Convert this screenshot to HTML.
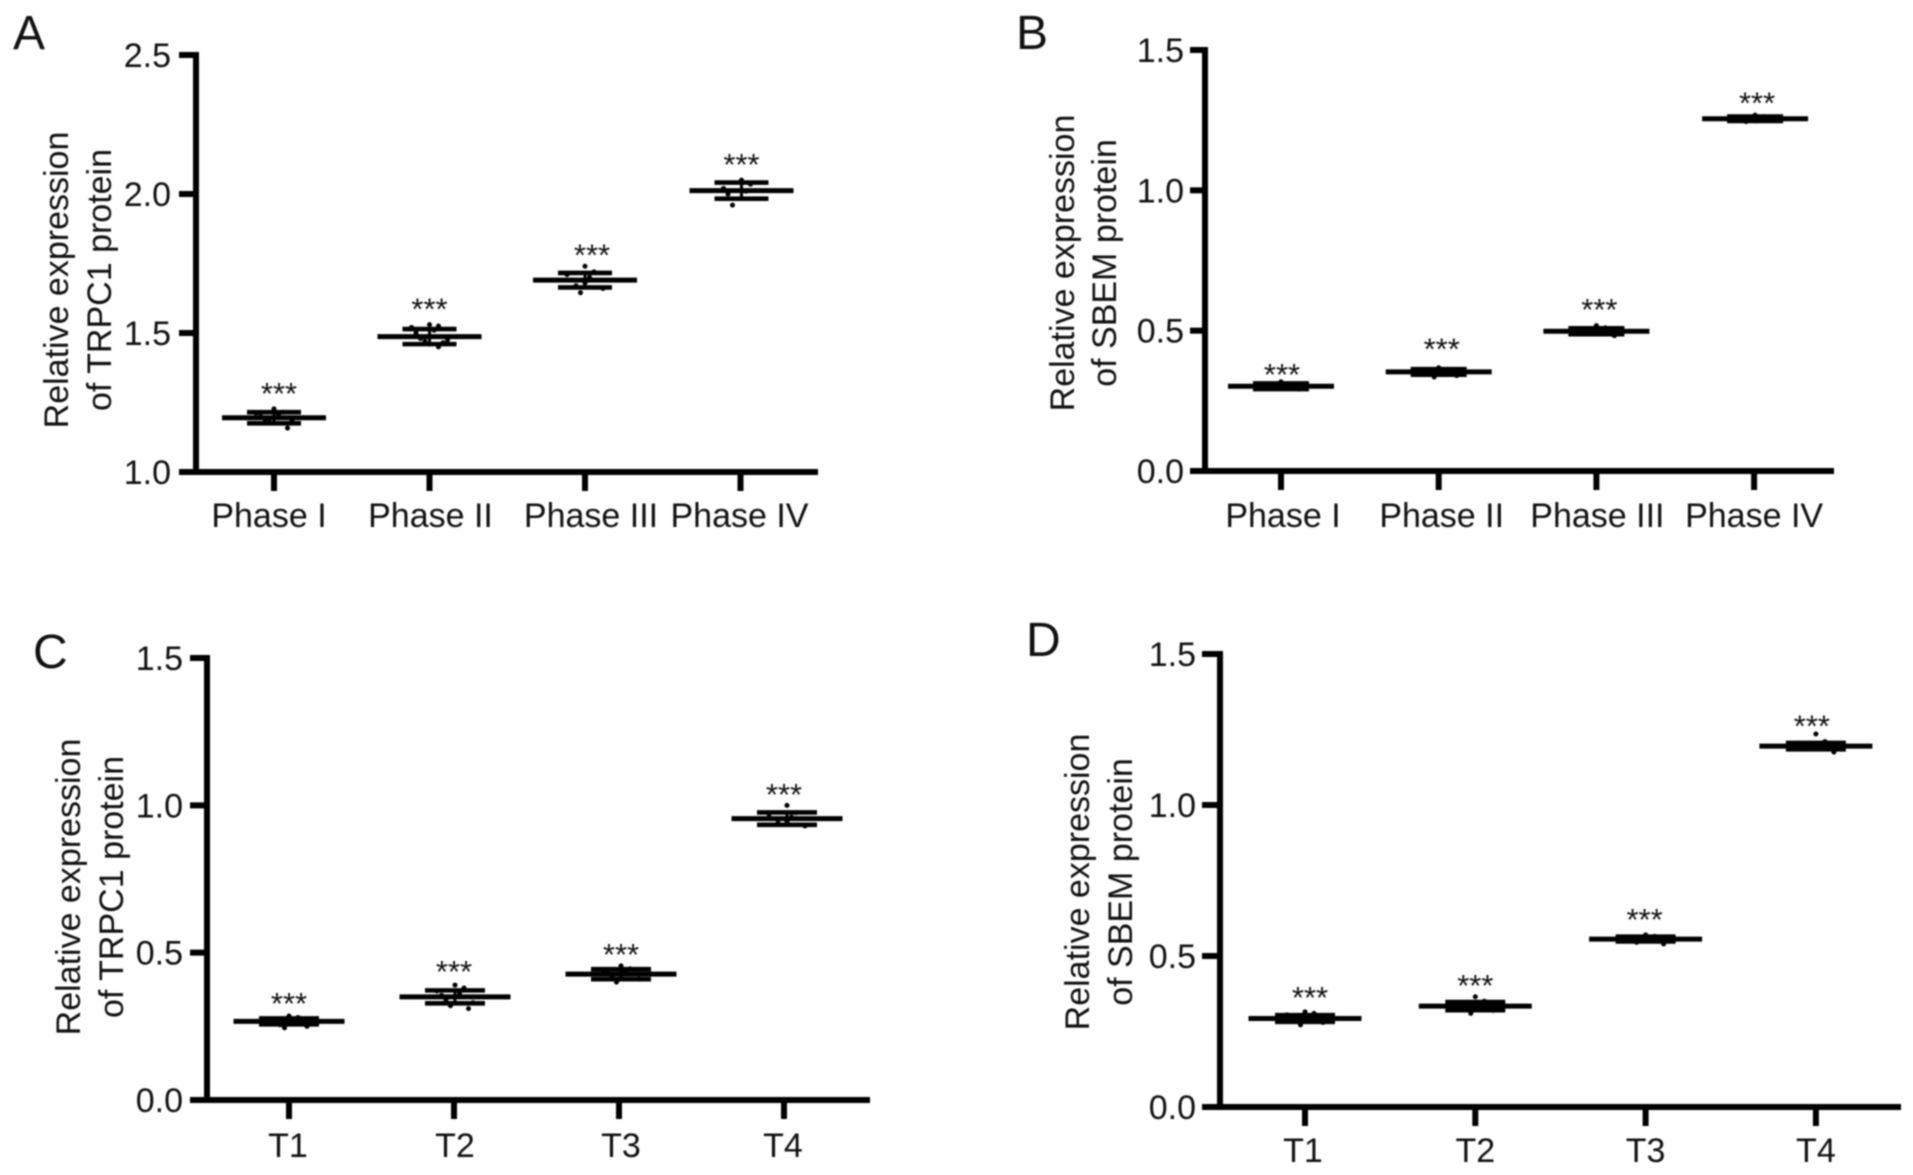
<!DOCTYPE html>
<html lang="en">
<head>
<meta charset="utf-8">
<title>Relative expression of TRPC1 and SBEM protein</title>
<style>
html,body{margin:0;padding:0;background:#fff;width:1913px;height:1175px;overflow:hidden}
svg{display:block;filter:blur(0.7px)}
text{font-family:"Liberation Sans",Arial,sans-serif;fill:#111}
</style>
</head>
<body>
<svg id="figure" xmlns="http://www.w3.org/2000/svg" width="1913" height="1175" viewBox="0 0 1913 1175"></svg>
<script>
// ---------- Panel A data ----------
const aCategories = ["Phase I", "Phase II", "Phase III", "Phase IV"];
const aTicks = ["1.0", "1.5", "2.0", "2.5"];
const aMeans = [1.195, 1.487, 1.69, 2.012];
const aSds = [0.02, 0.027, 0.026, 0.029];
const aStars = [1.291, 1.596, 1.79, 2.116];
const aPoints = [
  [1.227, 1.215, 1.212, 1.205, 1.2, 1.195, 1.19, 1.185, 1.18, 1.158],
  [1.53, 1.525, 1.52, 1.51, 1.5, 1.49, 1.48, 1.475, 1.47, 1.465, 1.46, 1.45],
  [1.74, 1.72, 1.71, 1.7, 1.69, 1.68, 1.67, 1.66, 1.645],
  [2.05, 2.035, 2.02, 2.01, 2.0, 1.985, 1.96]
];
// ---------- Panel B data ----------
const bCategories = ["Phase I", "Phase II", "Phase III", "Phase IV"];
const bTicks = ["0.0", "0.5", "1.0", "1.5"];
const bMeans = [0.302, 0.353, 0.498, 1.255];
const bSds = [0.01, 0.01, 0.0105, 0.008];
const bStars = [0.353, 0.444, 0.584, 1.32];
const bPoints = [
  [0.318, 0.308, 0.305, 0.302, 0.3, 0.298, 0.295, 0.292],
  [0.368, 0.362, 0.358, 0.355, 0.352, 0.348, 0.345, 0.34, 0.335],
  [0.518, 0.51, 0.505, 0.5, 0.497, 0.493, 0.49, 0.482],
  [1.268, 1.262, 1.258, 1.255, 1.252, 1.248, 1.245]
];
// ---------- Panel C data ----------
const cCategories = ["T1", "T2", "T3", "T4"];
const cTicks = ["0.0", "0.5", "1.0", "1.5"];
const cMeans = [0.267, 0.35, 0.427, 0.955];
const cSds = [0.01, 0.022, 0.017, 0.021];
const cStars = [0.336, 0.444, 0.502, 1.046];
const cPoints = [
  [0.285, 0.28, 0.275, 0.27, 0.265, 0.26, 0.255, 0.25, 0.245],
  [0.39, 0.38, 0.37, 0.36, 0.355, 0.35, 0.34, 0.33, 0.32, 0.31],
  [0.455, 0.445, 0.44, 0.435, 0.43, 0.425, 0.42, 0.41, 0.4],
  [1.0, 0.975, 0.97, 0.96, 0.955, 0.945, 0.94, 0.93]
];
// ---------- Panel D data ----------
const dCategories = ["T1", "T2", "T3", "T4"];
const dTicks = ["0.0", "0.5", "1.0", "1.5"];
const dMeans = [0.293, 0.334, 0.556, 1.195];
const dSds = [0.011, 0.0135, 0.008, 0.0105];
const dStars = [0.371, 0.411, 0.629, 1.27];
const dPoints = [
  [0.315, 0.31, 0.305, 0.3, 0.295, 0.29, 0.285, 0.28, 0.272],
  [0.365, 0.35, 0.345, 0.34, 0.335, 0.33, 0.325, 0.32, 0.31],
  [0.57, 0.565, 0.56, 0.557, 0.553, 0.55, 0.545, 0.54],
  [1.235, 1.21, 1.205, 1.2, 1.195, 1.19, 1.185, 1.175]
];

const NS = "http://www.w3.org/2000/svg";
const svg = document.getElementById("figure");

function make(parent, tag, attrs, txt) {
  const el = document.createElementNS(NS, tag);
  for (const k in attrs) el.setAttribute(k, attrs[k]);
  if (txt !== undefined) el.textContent = txt;
  parent.appendChild(el);
  return el;
}
function slug(s) { return s.toLowerCase().replace(/[^a-z0-9]+/g, "-"); }

function drawPanel(p) {
  const g = make(svg, "g", {});
  
  

  const lo = parseFloat(p.ticks[0]);
  const hi = parseFloat(p.ticks[p.ticks.length - 1]);
  const y = v => p.yBottom + (v - lo) / (hi - lo) * (p.yTop - p.yBottom);
  const x = i => p.xFirst + i * p.xStep;

  const letter = make(g, "text", { x: p.letterX, y: p.letterY, "font-size": 48 }, p.letter);
  
  

  // y axis line
  const yAxis = make(g, "line", { x1: p.xAxis, x2: p.xAxis, y1: y(hi) - 3, y2: y(lo) + 3, stroke: "#000", "stroke-width": 6 });
  
  

  // x axis line
  const xAxis = make(g, "line", { x1: p.tickLeft, x2: p.xEnd, y1: y(lo), y2: y(lo), stroke: "#000", "stroke-width": 6 });
  
  

  // y ticks + labels
  p.ticks.forEach(t => {
    const v = parseFloat(t);
    const tick = make(g, "line", { x1: p.tickLeft, x2: p.xAxis, y1: y(v), y2: y(v), stroke: "#000", "stroke-width": 6 });
    
    
    const lab = make(g, "text", { x: p.tickLabelRight, y: y(v) + 12, "font-size": 34, "text-anchor": "end" }, t);
    
    
  });

  // y-axis titles
  const t1 = make(g, "text", { transform: "translate(" + p.title1X + "," + p.titleY + ") rotate(-90)", "font-size": 34, "text-anchor": "middle" }, "Relative expression");
  
  
  const t2 = make(g, "text", { transform: "translate(" + p.title2X + "," + p.titleY + ") rotate(-90)", "font-size": 34, "text-anchor": "middle" }, p.title);
  
  

  // categories
  p.categories.forEach((c, i) => {
    const tx = x(i);
    const cx = tx + p.markDx[i];
    const tick = make(g, "line", { x1: tx, x2: tx, y1: y(lo), y2: y(lo) + 19, stroke: "#000", "stroke-width": 6 });
    
    

    const lab = make(g, "text", { x: tx + p.labelDx[i], y: p.labelY, "font-size": 34, "text-anchor": "middle" }, c);
    
    

    const group = make(g, "g", {});
    
    

    // individual samples: rank-based swarm offset
    const pts = p.points[i];
    pts.forEach((v, k) => {
      const side = k % 2 ? 1 : -1;
      const reach = ((k * 7) % 5) * 4.5;
      const dot = make(group, "circle", { cx: cx + side * reach, cy: y(v), r: 2.5, fill: "#000" });
      
      
    });

    const whisker = make(group, "line", { x1: cx, x2: cx, y1: y(p.means[i] - p.sds[i]), y2: y(p.means[i] + p.sds[i]), stroke: "#000", "stroke-width": 3 });
    
    

    const capTop = make(group, "line", { x1: cx - p.capHalf, x2: cx + p.capHalf, y1: y(p.means[i] + p.sds[i]), y2: y(p.means[i] + p.sds[i]), stroke: "#000", "stroke-width": 4.6 });
    
    

    const capBottom = make(group, "line", { x1: cx - p.capHalf, x2: cx + p.capHalf, y1: y(p.means[i] - p.sds[i]), y2: y(p.means[i] - p.sds[i]), stroke: "#000", "stroke-width": 4.6 });
    
    

    const mean = make(group, "line", { x1: cx - p.meanHalf, x2: cx + p.meanHalf, y1: y(p.means[i]), y2: y(p.means[i]), stroke: "#000", "stroke-width": 5 });
    
    

    const star = make(group, "text", { x: tx + p.starDx[i], y: y(p.stars[i]) + 13, "font-size": 31, "text-anchor": "middle" }, "***");
    
    
  });
}

drawPanel({
  letter: "A", letterX: 13, letterY: 49, title: "of TRPC1 protein",
  categories: aCategories, ticks: aTicks, means: aMeans, sds: aSds, stars: aStars, points: aPoints,
  xAxis: 196, tickLeft: 179, xEnd: 818, yTop: 55, yBottom: 472, xFirst: 274, xStep: 155.5,
  tickLabelRight: 171, title1X: 68, title2X: 111, titleY: 280, labelY: 527,
  markDx: [0, 0, 0, 1], labelDx: [-5, 1, 6, -1], starDx: [5, 0, 7, 1], capHalf: 27, meanHalf: 52
});
drawPanel({
  letter: "B", letterX: 1016, letterY: 49, title: "of SBEM protein",
  categories: bCategories, ticks: bTicks, means: bMeans, sds: bSds, stars: bStars, points: bPoints,
  xAxis: 1205, tickLeft: 1190, xEnd: 1834, yTop: 50, yBottom: 471, xFirst: 1281, xStep: 157.7,
  tickLabelRight: 1184, title1X: 1074, title2X: 1116, titleY: 263, labelY: 527,
  markDx: [0, 0, 0, 1], labelDx: [2, 3, 1, 0], starDx: [1, 3, 3, 3], capHalf: 28, meanHalf: 53
});
drawPanel({
  letter: "C", letterX: 33, letterY: 668, title: "of TRPC1 protein",
  categories: cCategories, ticks: cTicks, means: cMeans, sds: cSds, stars: cStars, points: cPoints,
  xAxis: 207, tickLeft: 190, xEnd: 870, yTop: 658, yBottom: 1100, xFirst: 289, xStep: 165,
  tickLabelRight: 183, title1X: 80, title2X: 123, titleY: 887, labelY: 1157,
  markDx: [0, 1, 2, 3], labelDx: [-1, 1, 2, -1], starDx: [0, 0, 2, 0], capHalf: 30, meanHalf: 55.5
});
drawPanel({
  letter: "D", letterX: 1026, letterY: 656, title: "of SBEM protein",
  categories: dCategories, ticks: dTicks, means: dMeans, sds: dSds, stars: dStars, points: dPoints,
  xAxis: 1220, tickLeft: 1202, xEnd: 1901, yTop: 654, yBottom: 1107, xFirst: 1305, xStep: 170.3,
  tickLabelRight: 1196, title1X: 1089, title2X: 1132, titleY: 882, labelY: 1162,
  markDx: [0, 0, 0, 0], labelDx: [-2, 0, 0, 0], starDx: [5, 0, -1, -4], capHalf: 30, meanHalf: 56.5
});
</script>
</body>
</html>
